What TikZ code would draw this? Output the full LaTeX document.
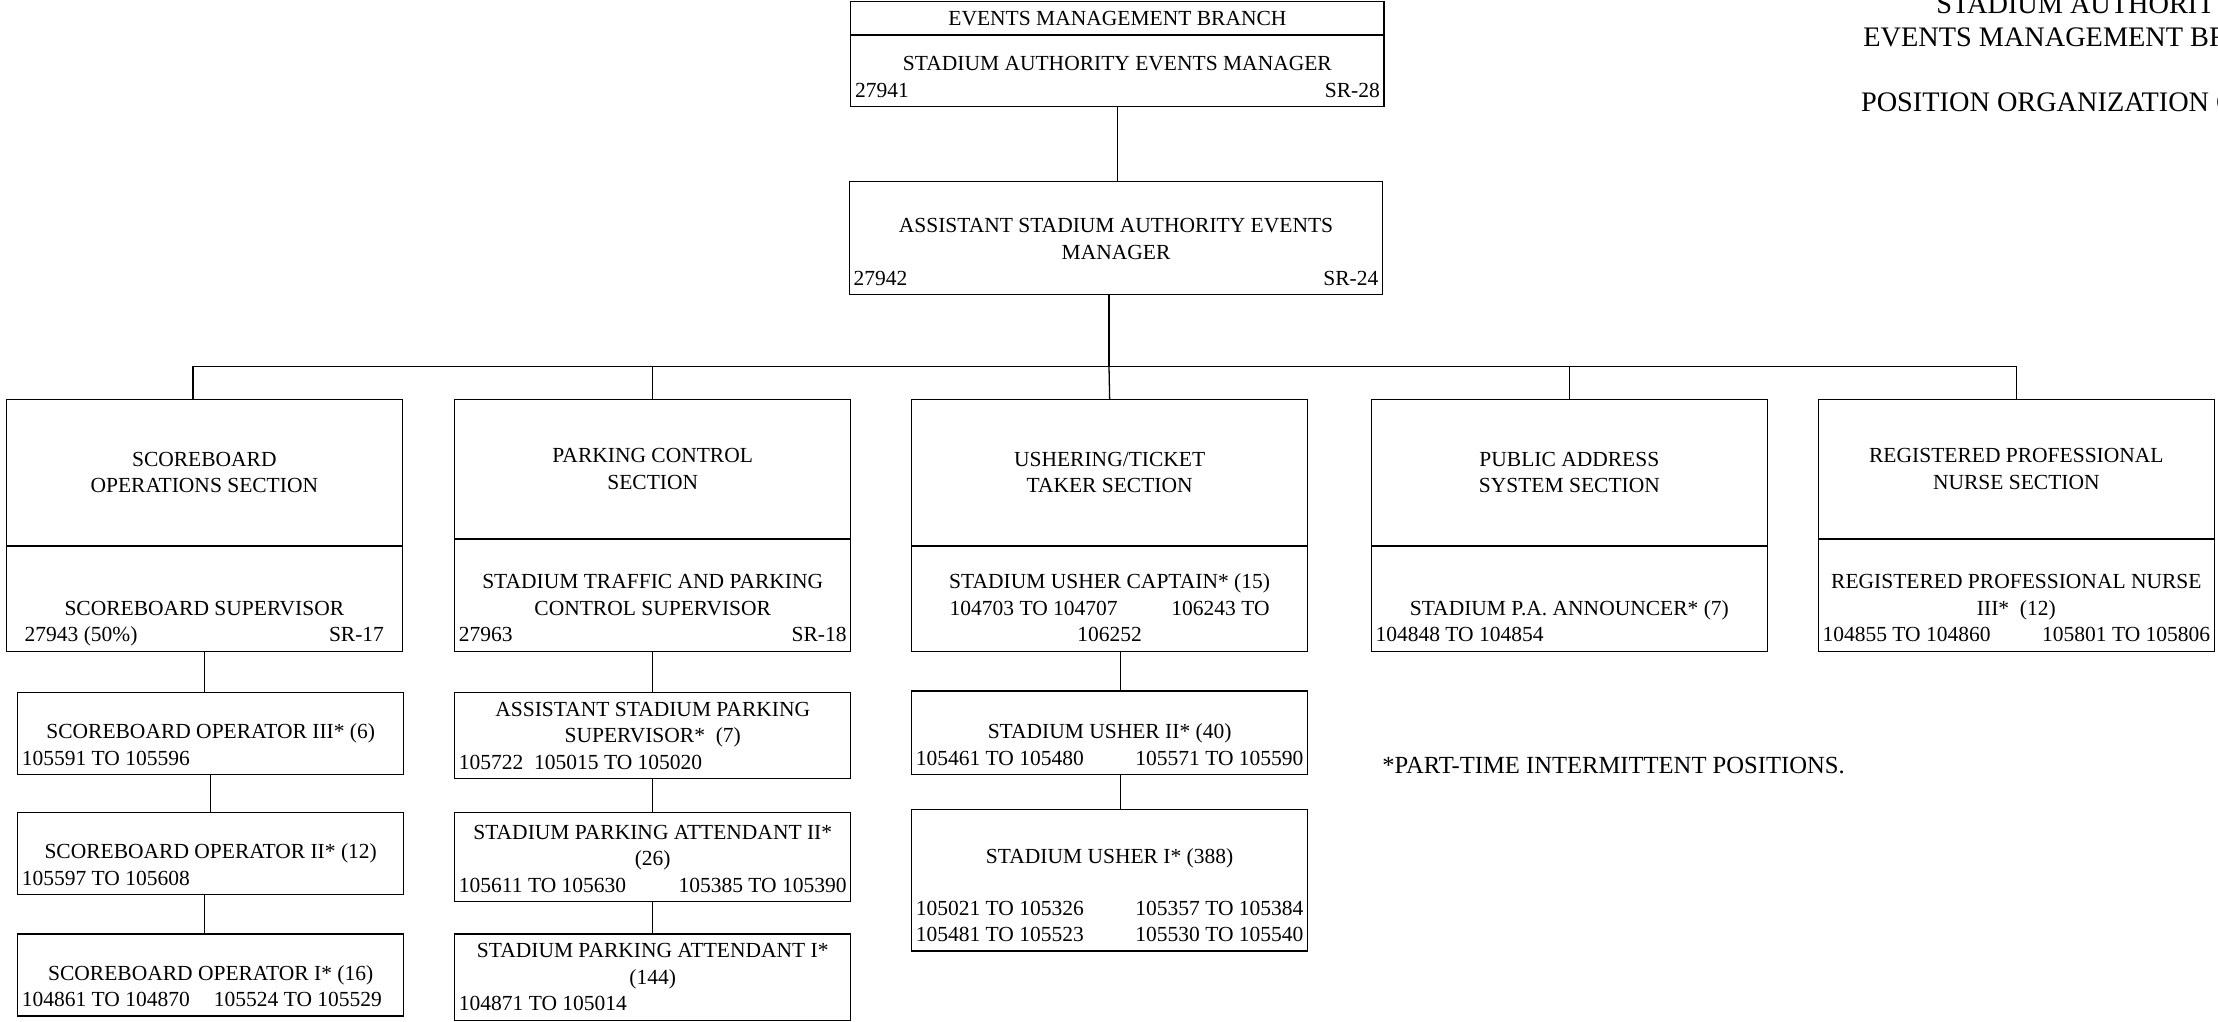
\documentclass[tikz,border=0pt]{standalone}
\usepackage{fontspec}
\setmainfont{Liberation Serif}
\usetikzlibrary{positioning}

% text sitting at the bottom of a box of given outer size
\newcommand{\pb}[3]{\parbox[c][\dimexpr#2-1.8pt-\dp\strutbox\relax][b]{\dimexpr#1-6pt\relax}{\centering#3\strut\par}}

\begin{document}
\begin{tikzpicture}[
  x=1pt, y=-1pt,
  font=\fontsize{15.2}{18.8}\selectfont,
  line width=0.9pt,
  branchbox/.style={draw, anchor=north west, minimum width=377pt,
                    minimum height=23.3pt, inner sep=0pt},
  sectbox/.style={draw, anchor=north west, minimum width=280pt,
                  align=center, inner sep=0pt},
  postbox/.style={draw, anchor=north west, inner xsep=3pt, inner ysep=0.9pt},
  titletext/.style={anchor=base, inner sep=0pt, font=\fontsize{20}{23}\selectfont},
  notetext/.style={anchor=base west, inner sep=0pt, font=\fontsize{17.4}{20}\selectfont}
]
\useasboundingbox (0,0) rectangle (1568,722);
\clip (0,0) rectangle (1568,722);

% Branch head
\node[branchbox] (branch) at (601,0.7) {EVENTS MANAGEMENT BRANCH};
\node[postbox, below=0pt of branch] (mgr) {\pb{377pt}{50pt}{STADIUM AUTHORITY EVENTS MANAGER\\27941\hfill SR-28}};
\node[postbox] (asst) at (600,128) {\pb{377pt}{80pt}{ASSISTANT STADIUM AUTHORITY EVENTS\\MANAGER\\27942\hfill SR-24}};

% Sections
\node[sectbox, minimum height=103pt] (scoreSec) at (4,282) {SCOREBOARD\\OPERATIONS SECTION};
\node[postbox, below=0pt of scoreSec] (scoreSup) {\pb{280pt}{74pt}{SCOREBOARD SUPERVISOR\\\hspace*{10pt}27943 (50\%)\hfill SR-17\hspace*{10pt}}};

\node[sectbox, minimum height=98pt] (parkSec) at (321,282) {PARKING CONTROL\\SECTION};
\node[postbox, below=0pt of parkSec] (parkSup) {\pb{280pt}{79pt}{STADIUM TRAFFIC AND PARKING\\CONTROL SUPERVISOR\\27963\hfill SR-18}};

\node[sectbox, minimum height=103pt] (usherSec) at (644,282) {USHERING/TICKET\\TAKER SECTION};
\node[postbox, below=0pt of usherSec] (usherCapt) {\pb{280pt}{74pt}{STADIUM USHER CAPTAIN* (15)\\104703 TO 104707\hspace{38pt}106243 TO\\106252}};

\node[sectbox, minimum height=103pt] (paSec) at (969,282) {PUBLIC ADDRESS\\SYSTEM SECTION};
\node[postbox, below=0pt of paSec] (paAnn) {\pb{280pt}{74pt}{STADIUM P.A. ANNOUNCER* (7)\\104848 TO 104854\hfill}};

\node[sectbox, minimum height=98pt] (nurseSec) at (1285,282) {REGISTERED PROFESSIONAL\\NURSE SECTION};
\node[postbox, below=0pt of nurseSec] (nurse) {\pb{280pt}{79pt}{REGISTERED PROFESSIONAL NURSE\\III*~~(12)\\104855 TO 104860\hfill 105801 TO 105806}};

% Scoreboard column
\node[postbox] (op3) at (12,489) {\pb{273pt}{58pt}{SCOREBOARD OPERATOR III* (6)\\105591 TO 105596\hfill}};
\node[postbox, below=26pt of op3] (op2) {\pb{273pt}{58pt}{SCOREBOARD OPERATOR II* (12)\\105597 TO 105608\hfill}};
\node[postbox, below=27pt of op2] (op1) {\pb{273pt}{58pt}{SCOREBOARD OPERATOR I* (16)\\104861 TO 104870\hspace{17pt}105524 TO 105529\hfill}};

% Parking column
\node[postbox] (asp) at (321,489) {\pb{280pt}{61pt}{ASSISTANT STADIUM PARKING\\SUPERVISOR*~~(7)\\105722~~105015 TO 105020\hfill}};
\node[postbox, below=23pt of asp] (att2) {\pb{280pt}{63pt}{STADIUM PARKING ATTENDANT II*\\(26)\\105611 TO 105630\hfill 105385 TO 105390}};
\node[postbox, below=22pt of att2] (att1) {\pb{280pt}{61pt}{STADIUM PARKING ATTENDANT I*\\(144)\\104871 TO 105014\hfill}};

% Usher column
\node[postbox] (usher2) at (644,488) {\pb{280pt}{59pt}{STADIUM USHER II* (40)\\105461 TO 105480\hfill 105571 TO 105590}};
\node[postbox, below=24pt of usher2] (usher1) {\pb{280pt}{100pt}{STADIUM USHER I* (388)\\[18pt]105021 TO 105326\hfill 105357 TO 105384\\105481 TO 105523\hfill 105530 TO 105540}};

% Title and note
\node[titletext] (title1) at (1474.5,9.4) {STADIUM AUTHORITY};
\node[titletext] (title2) at (1474.5,33) {EVENTS MANAGEMENT BRANCH};
\node[titletext] (title3) at (1474.5,79) {POSITION ORGANIZATION CHART};
\node[notetext] (note) at (976.8,546.7) {*PART-TIME INTERMITTENT POSITIONS.};

% edges
\coordinate (bus) at (784,259);
\draw (mgr.south) -- (mgr.south |- asst.north);
\draw (asst.south -| bus) -- (bus);
\draw ([xshift=-8pt]scoreSec.north) |- (bus) -| (nurseSec.north);
\draw (bus) -- (usherSec.north);
\foreach \s in {parkSec,paSec}
  \draw (\s.north) -- (\s.north |- bus);
\draw (scoreSup.south) -- (scoreSup.south |- op3.north);
\draw (op3.south) -- (op3.south |- op2.north);
\draw (op2.south -| scoreSup.south) -- (op1.north -| scoreSup.south);
\draw (parkSup.south) -- (asp.north);
\draw (asp.south) -- (att2.north);
\draw (att2.south) -- (att1.north);
\draw ([xshift=7.5pt]usherCapt.south) -- ([xshift=7.5pt]usher2.north);
\draw ([xshift=7.5pt]usher2.south) -- ([xshift=7.5pt]usher1.north);
\end{tikzpicture}
\end{document}
